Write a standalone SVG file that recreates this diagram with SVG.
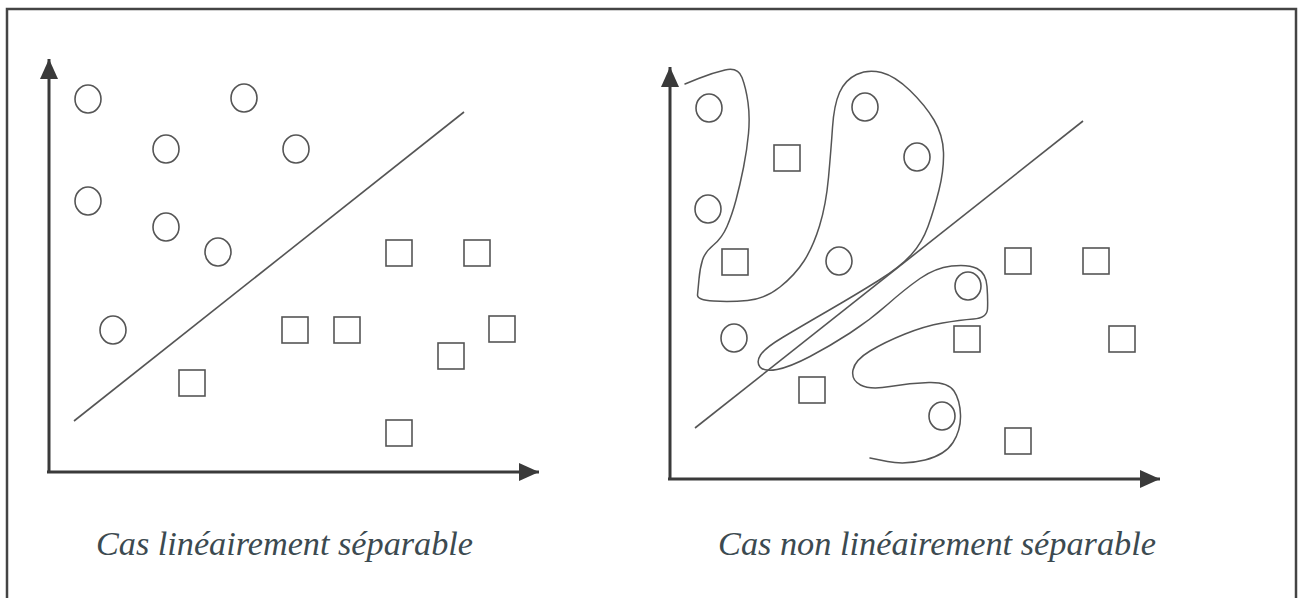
<svg xmlns="http://www.w3.org/2000/svg" width="1300" height="598" viewBox="0 0 1300 598">
<style>
.frame{fill:none;stroke:#444;stroke-width:2.5}
.axis{fill:none;stroke:#3a3a3a;stroke-width:3}
.sep{fill:none;stroke:#555;stroke-width:1.6}
.pt{fill:none;stroke:#555;stroke-width:1.6}
.blob{fill:none;stroke:#555;stroke-width:1.5;stroke-linejoin:round;stroke-linecap:round}
.lbl{font-family:"Liberation Serif",serif;font-style:italic;font-size:33px;fill:#3c4a50}
</style>
<defs>
<marker id="arr" markerUnits="userSpaceOnUse" markerWidth="20" markerHeight="18" refX="20" refY="9" orient="auto">
<path d="M0,0 L20,9 L0,18 z" fill="#3a3a3a"/>
</marker>
<ellipse id="c" cx="0" cy="0" rx="13" ry="14" class="pt"/>
<rect id="s" x="-13" y="-13" width="26" height="26" class="pt"/>
</defs>
<rect x="0" y="0" width="1300" height="598" fill="#fff"/>
<rect class="frame" x="7" y="9" width="1289" height="610"/>

<g id="left-plot">
<g id="left-axes">
<line class="axis" x1="49" y1="473" x2="49" y2="59" marker-end="url(#arr)"/>
<line class="axis" x1="47" y1="472" x2="539" y2="472" marker-end="url(#arr)"/>
</g>
<line id="left-separator" class="sep" x1="464" y1="112" x2="74" y2="421"/>
<g id="left-circles">
<use href="#c" x="88" y="99"/>
<use href="#c" x="244" y="98"/>
<use href="#c" x="166" y="149"/>
<use href="#c" x="296" y="149"/>
<use href="#c" x="88" y="201"/>
<use href="#c" x="166" y="227"/>
<use href="#c" x="218" y="252"/>
<use href="#c" x="113" y="330"/>
</g>
<g id="left-squares">
<use href="#s" x="399" y="253"/>
<use href="#s" x="477" y="253"/>
<use href="#s" x="295" y="330"/>
<use href="#s" x="347" y="330"/>
<use href="#s" x="502" y="329"/>
<use href="#s" x="451" y="356"/>
<use href="#s" x="192" y="383"/>
<use href="#s" x="399" y="433"/>
</g>
<text id="left-label" class="lbl" x="96" y="555" textLength="377" lengthAdjust="spacingAndGlyphs">Cas linéairement séparable</text>
</g>

<g id="right-plot">
<g id="right-axes">
<line class="axis" x1="670" y1="480" x2="670" y2="67" marker-end="url(#arr)"/>
<line class="axis" x1="668" y1="479" x2="1160" y2="479" marker-end="url(#arr)"/>
</g>
<line id="right-separator" class="sep" x1="1083" y1="121" x2="695" y2="428"/>
<path id="right-boundary" class="blob" d="M685,84 L698.5,78.5 Q712,73 725,70 Q738,67 742,77.5 Q746,88 748,102.5 Q750,117 748.5,133.5 Q747,150 743.5,167.5 Q740,185 736,200 Q732,215 727,226.5 Q722,238 713.5,245 Q705,252 702.5,260 Q700,268 699,279 Q698,290 697.5,295 Q697,300 713.5,301 Q730,302 747.5,300.5 Q765,299 780,287 Q795,275 804,261 Q813,247 819.5,226 Q826,205 828.5,177.5 Q831,150 832.5,127.5 Q834,105 839.5,92.5 Q845,80 856.5,74.5 Q868,69 881.5,72.5 Q895,76 910,90.5 Q925,105 934,120 Q943,135 943.5,152.5 Q944,170 939,190 Q934,210 928,226.5 Q922,243 911,255 Q900,267 878.5,280.5 Q857,294 828.5,310.5 Q800,327 782.5,337.5 Q765,348 760.5,355 Q756,362 760,367 Q764,372 777,369.5 Q790,367 810,356.5 Q830,346 850,333 Q870,320 887.5,304.5 Q905,289 920,278.5 Q935,268 951.5,266 Q968,264 977,268.5 Q986,273 987,286.5 Q988,300 987.5,309 Q987,318 973.5,319 Q960,320 942.5,323 Q925,326 905,334 Q885,342 870,351 Q855,360 853,370 Q851,380 860.5,385 Q870,390 890,386.5 Q910,383 929,382.5 Q948,382 954,391 Q960,400 960.5,415 Q961,430 953,442.5 Q945,455 925,460 Q905,465 887.5,461.5 L870,458"/>
<g id="right-circles">
<use href="#c" x="709" y="108"/>
<use href="#c" x="865" y="107"/>
<use href="#c" x="917" y="157"/>
<use href="#c" x="708" y="209"/>
<use href="#c" x="839" y="261"/>
<use href="#c" x="968" y="286"/>
<use href="#c" x="734" y="338"/>
<use href="#c" x="942" y="416"/>
</g>
<g id="right-squares">
<use href="#s" x="787" y="158"/>
<use href="#s" x="735" y="262"/>
<use href="#s" x="1018" y="261"/>
<use href="#s" x="1096" y="261"/>
<use href="#s" x="967" y="339"/>
<use href="#s" x="1122" y="339"/>
<use href="#s" x="812" y="390"/>
<use href="#s" x="1018" y="441"/>
</g>
<text id="right-label" class="lbl" x="718" y="555" textLength="438" lengthAdjust="spacingAndGlyphs">Cas non linéairement séparable</text>
</g>
</svg>
